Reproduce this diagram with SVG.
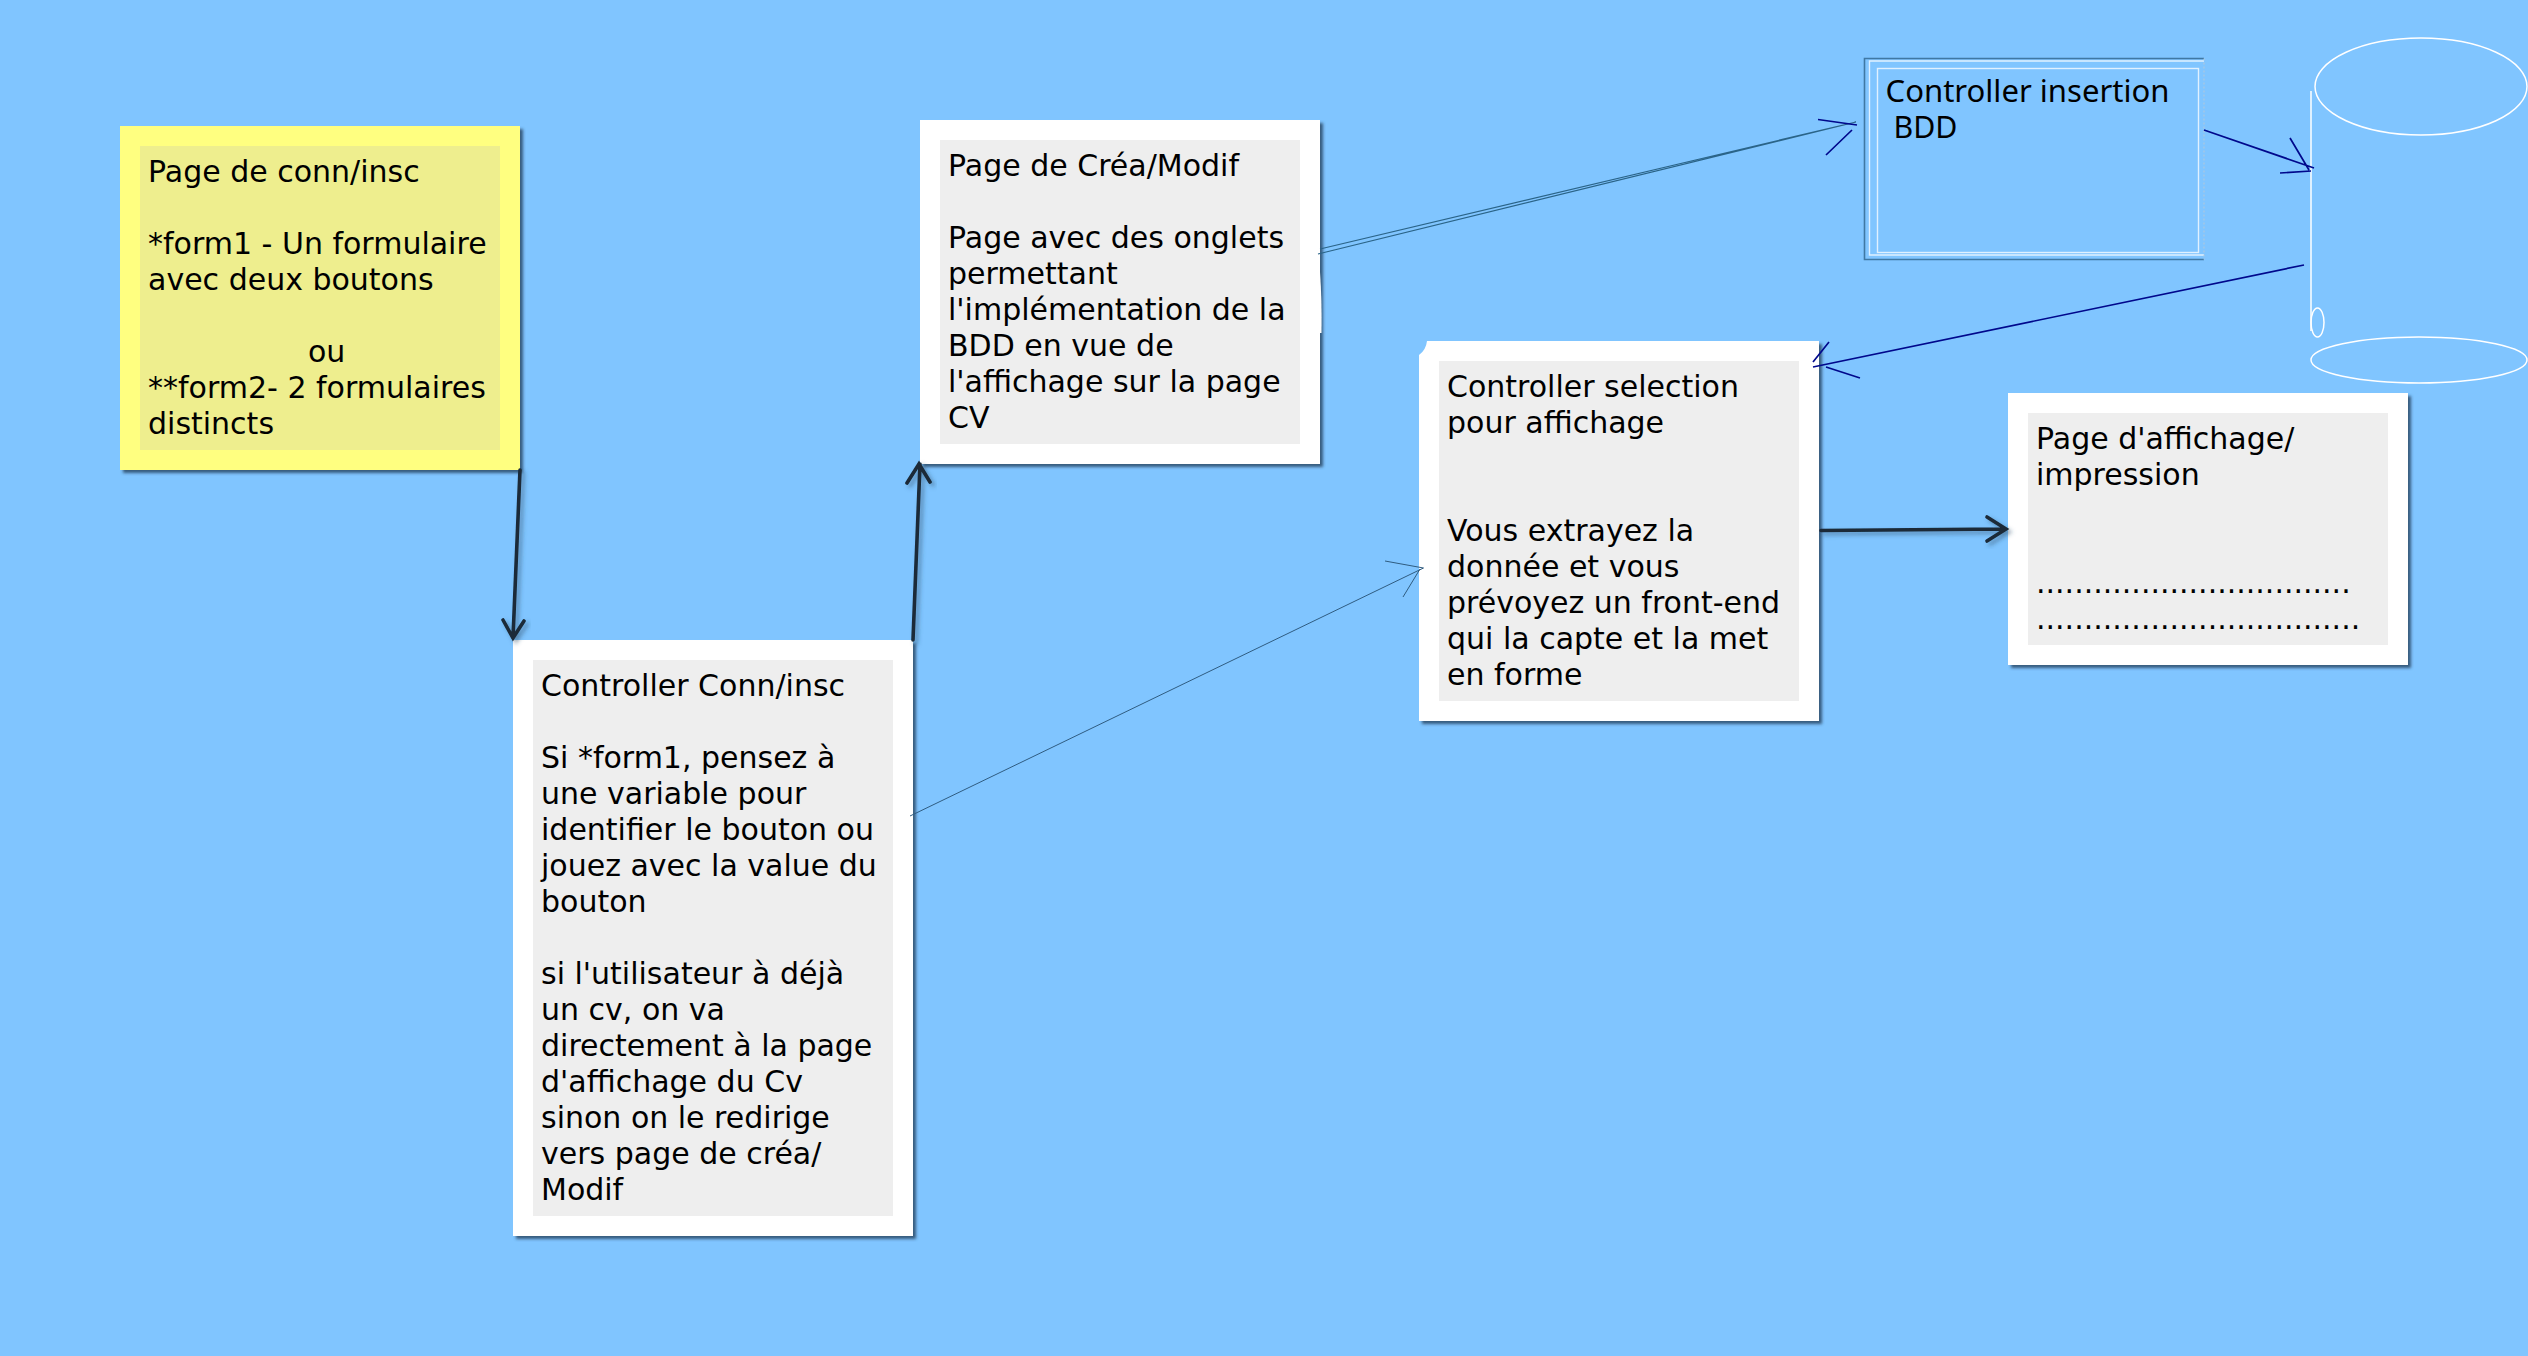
<svg xmlns="http://www.w3.org/2000/svg" width="2528" height="1356" viewBox="0 0 2528 1356">
<style>
.bg{fill:#80c5ff}
.card{fill:#fff;filter:url(#sh)}
.yellow{fill:#ffff80;filter:url(#sh)}
.inner{fill:#eee}
.innery{fill:#eeee8e}
text{font-family:"DejaVu Sans",sans-serif;font-size:30px;fill:#000}
text.ub{font-family:"Noto Sans",sans-serif}
.thick{fill:none;stroke:#1a2a38;stroke-width:3.6;stroke-linecap:round;filter:url(#shl)}
.thin{fill:none;stroke:#2f5c80;stroke-width:1}
.steel{fill:none;stroke:#2a6488;stroke-width:1.2}
.navy{fill:none;stroke:#00088c;stroke-width:1.7}
.w{fill:none;stroke:#fff;stroke-width:1.5}
.wl{fill:none;stroke:#e0f1ff;stroke-width:1.4}
</style>
<defs>
<filter id="sh" x="-5%" y="-5%" width="112%" height="112%"><feDropShadow dx="3" dy="3" stdDeviation="1.5" flood-color="#2a4a66" flood-opacity="0.85"/></filter>
<filter id="shl" x="-30%" y="-30%" width="160%" height="160%" filterUnits="objectBoundingBox"><feDropShadow dx="3" dy="3" stdDeviation="2" flood-color="#2a4a66" flood-opacity="0.5"/></filter>
</defs>
<rect class="bg" width="2528" height="1356"/>
<g id="node-conn">
<rect class="yellow" x="120" y="126" width="400" height="344"/>
<rect class="innery" x="140" y="146" width="360" height="304"/>
<text><tspan x="148" y="182">Page de conn/insc</tspan><tspan x="148" y="254">*form1 - Un formulaire</tspan><tspan x="148" y="290">avec deux boutons</tspan><tspan x="308" y="362">ou</tspan><tspan x="148" y="398">**form2- 2 formulaires</tspan><tspan x="148" y="434">distincts</tspan></text>
</g>
<g id="node-crea">
<rect class="card" x="920" y="120" width="400" height="344"/>
<path d="M1320 272Q1322 300 1321.5 333L1318 333V272Z" fill="#fff"/>
<rect class="inner" x="940" y="140" width="360" height="304"/>
<text><tspan x="948" y="176">Page de Créa/Modif</tspan><tspan x="948" y="248">Page avec des onglets</tspan><tspan x="948" y="284">permettant</tspan><tspan x="948" y="320">l'implémentation de la</tspan><tspan x="948" y="356">BDD en vue de</tspan><tspan x="948" y="392">l'affichage sur la page</tspan><tspan x="948" y="428">CV</tspan></text>
</g>
<g id="node-controller-conn">
<rect class="card" x="513" y="640" width="400" height="596"/>
<rect class="inner" x="533" y="660" width="360" height="556"/>
<text><tspan x="541" y="696">Controller Conn/insc</tspan><tspan x="541" y="768">Si *form1, pensez à</tspan><tspan x="541" y="804">une variable pour</tspan><tspan x="541" y="840">identifier le bouton ou</tspan><tspan x="541" y="876">jouez avec la value du</tspan><tspan x="541" y="912">bouton</tspan><tspan x="541" y="984">si l'utilisateur à déjà</tspan><tspan x="541" y="1020">un cv, on va</tspan><tspan x="541" y="1056">directement à la page</tspan><tspan x="541" y="1092">d'affichage du Cv</tspan><tspan x="541" y="1128">sinon on le redirige</tspan><tspan x="541" y="1164">vers page de créa/</tspan><tspan x="541" y="1200">Modif</tspan></text>
</g>
<g id="node-selection">
<path class="card" d="M1427 341H1819V721H1419V355Q1426 350 1427 341Z"/>
<rect class="inner" x="1439" y="361" width="360" height="340"/>
<text><tspan x="1447" y="397">Controller selection</tspan><tspan x="1447" y="433">pour affichage</tspan><tspan x="1447" y="541">Vous extrayez la</tspan><tspan x="1447" y="577">donnée et vous</tspan><tspan x="1447" y="613">prévoyez un front-end</tspan><tspan x="1447" y="649">qui la capte et la met</tspan><tspan x="1447" y="685">en forme</tspan></text>
</g>
<g id="node-affichage">
<rect class="card" x="2008" y="393" width="400" height="272"/>
<rect class="inner" x="2028" y="413" width="360" height="232"/>
<text><tspan x="2036" y="449">Page d'affichage/</tspan><tspan x="2036" y="485">impression</tspan><tspan x="2036" y="593">.................................</tspan><tspan x="2036" y="629">..................................</tspan></text>
</g>
<g id="node-insertion">
<path d="M2204 58.5H1864.5V259.5H2204" fill="none" stroke="#3f78a4" stroke-width="1.6"/>
<path d="M2204 61H1869.5V255H2204" class="wl"/>
<path d="M2204 58.5V259.5" fill="none" stroke="#b4c8d8" stroke-width="1" stroke-dasharray="2 2"/>
<rect x="1877.5" y="68.5" width="321" height="184" class="wl"/>
<text class="ub"><tspan x="1885.5" y="102" textLength="284" lengthAdjust="spacingAndGlyphs">Controller insertion</tspan><tspan x="1893.5" y="138" textLength="64" lengthAdjust="spacingAndGlyphs">BDD</tspan></text>
</g>
<g id="node-cylinder">
<ellipse class="w" cx="2421" cy="86.5" rx="106" ry="48.5"/>
<path class="w" d="M2311 91V331"/>
<ellipse class="w" cx="2317.5" cy="322.5" rx="6.5" ry="14.5"/>
<ellipse class="w" cx="2419" cy="360" rx="108" ry="23"/>
</g>
<g id="connectors">
<path class="thick" d="M520 470L513 638M503 620L513 638L524 621"/>
<path class="thick" d="M913 640L920 464M907 483L919 464L930 482"/>
<path class="thick" d="M1821 530.5L2006 529M1987 517L2006 529L1987 541"/>
<path class="thin" d="M910 816L1423.5 568M1385 561L1423.5 568M1403 597L1420 569"/>
<path class="steel" d="M1318 254L1856 122M1320 249L1856 122"/>
<path class="navy" d="M1818 119.5L1857 125M1852 130L1826 155"/>
<path class="navy" d="M2204 130L2314 168M2290 138L2309 170M2280 173L2311 171"/>
<path class="navy" d="M2304 265L1813 367M1829 342L1813 362M1826 367L1860 378"/>
</g>
</svg>
